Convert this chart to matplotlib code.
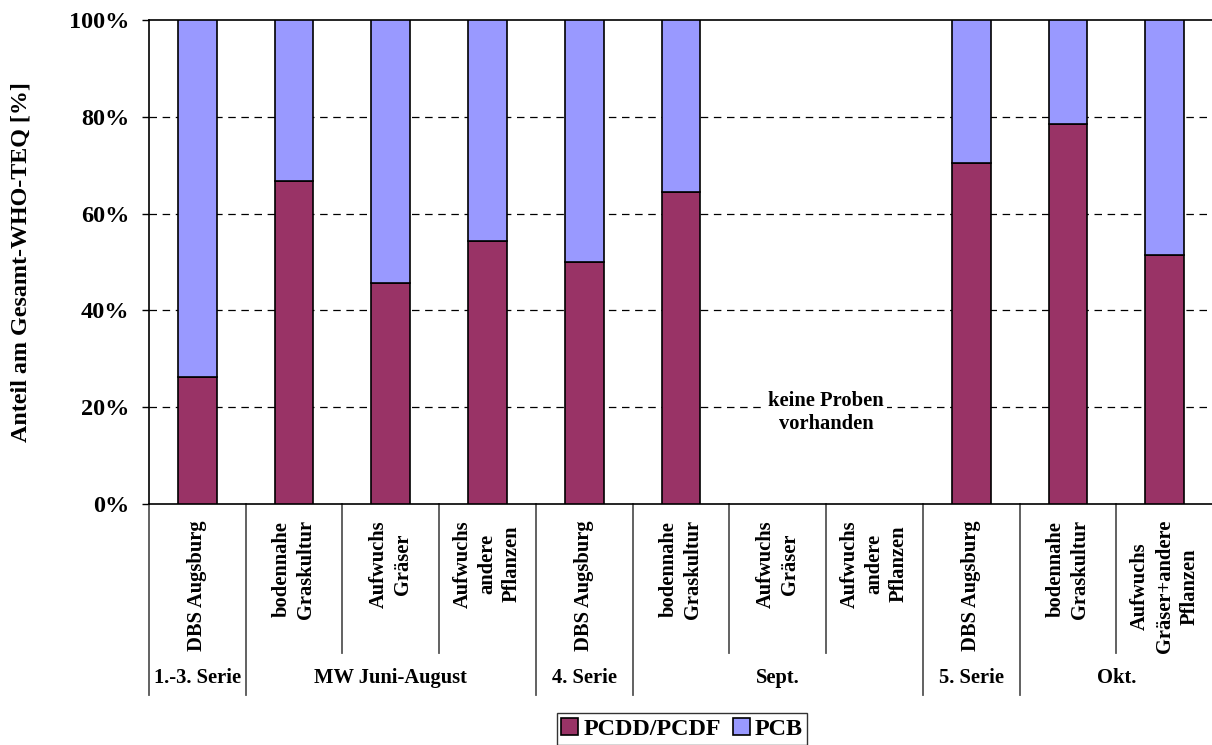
import numpy as np
import matplotlib
matplotlib.use("Agg")
import matplotlib.pyplot as plt

plt.rcParams['font.family'] = ['Liberation Serif', 'DejaVu Serif']
plt.rcParams['font.weight'] = 'bold'

# category labels (one per bar)
categories = ["DBS Augsburg", "bodennahe\nGraskultur", "Aufwuchs\nGräser", "Aufwuchs\nandere\nPflanzen",
              "DBS Augsburg", "bodennahe\nGraskultur", "Aufwuchs\nGräser", "Aufwuchs\nandere\nPflanzen",
              "DBS Augsburg", "bodennahe\nGraskultur", "Aufwuchs\nGräser+andere\nPflanzen"]
# group labels: (name, first index, last index)
groups = [("1.-3. Serie", 0, 0), ("MW Juni-August", 1, 3), ("4. Serie", 4, 4),
          ("Sept.", 5, 7), ("5. Serie", 8, 8), ("Okt.", 9, 10)]
# share of PCDD/PCDF in % (nan = keine Proben)
pcdd = np.array([26.3, 66.8, 45.6, 54.3, 50.1, 64.4, np.nan, np.nan, 70.5, 78.6, 51.5])
pcb = 100 - pcdd

c_pcdd = '#993366'
c_pcb = '#9999FF'

fig = plt.figure(figsize=(12.12, 7.45), dpi=100)
ax = fig.add_axes([149/1212, 241/745, 1064/1212, 484/745])

x = np.arange(len(categories))
ok = ~np.isnan(pcdd)
ax.bar(x[ok], pcdd[ok], width=0.40, color=c_pcdd, edgecolor='black', linewidth=1.2, label='PCDD/PCDF', zorder=3)
ax.bar(x[ok], pcb[ok], width=0.40, bottom=pcdd[ok], color=c_pcb, edgecolor='black', linewidth=1.2, label='PCB', zorder=3)

ax.set_xlim(-0.5, len(categories) - 0.5)
ax.set_ylim(0, 100)
ax.set_yticks([0, 20, 40, 60, 80, 100])
ax.set_yticklabels([f"{v}%" for v in [0, 20, 40, 60, 80, 100]], fontsize=17.5, fontweight='bold')
ax.tick_params(axis='y', direction='out', length=5, width=1, pad=9)
ax.set_xticks([])
for yv in [20, 40, 60, 80]:
    ax.axhline(yv, color='black', linestyle=(0, (6, 4.5)), linewidth=0.9, zorder=1)
for s in ax.spines.values():
    s.set_color('black')
    s.set_linewidth(1.2)

ax.set_ylabel("Anteil am Gesamt-WHO-TEQ [%]", fontsize=17.3, fontweight='bold')
ax.yaxis.set_label_coords(-0.11, 0.5)

trans = ax.get_xaxis_transform()
# category labels, rotated
for i, lab in enumerate(categories):
    ax.text(i, -0.033, lab, rotation=90, ha='center', va='top', multialignment='center',
            fontsize=14.8, fontweight='bold', linespacing=1.3, transform=trans)

# separators below the axis
group_edges = sorted(set([g[1] - 0.5 for g in groups] + [groups[-1][2] + 0.5]))
inner_edges = [k + 0.5 for (_, a, b) in groups for k in range(a, b)]
for e in inner_edges:
    ax.plot([e, e], [0, -0.308], color='#555555', linewidth=1.3, transform=trans, clip_on=False)
for e in group_edges:
    ax.plot([e, e], [0, -0.395], color='#555555', linewidth=1.3, transform=trans, clip_on=False)

for name, a, b in groups:
    ax.text((a + b) / 2, -0.36, name, ha='center', va='center', fontsize=14.8,
            fontweight='bold', transform=trans)

ax.text(6.5, 19, "keine Proben\nvorhanden", ha='center', va='center', fontsize=14.8,
        fontweight='bold', zorder=4, bbox=dict(facecolor='white', edgecolor='none', pad=2))

leg = fig.legend(loc='center', bbox_to_anchor=(682/1212, 1 - 729/745), ncol=2,
                 prop={'size': 17.4, 'weight': 'bold'}, frameon=True, fancybox=False,
                 handlelength=0.7, handleheight=0.7, handletextpad=0.2, columnspacing=0.5,
                 borderpad=0.2, borderaxespad=0)
leg.get_frame().set_edgecolor('black')
leg.get_frame().set_linewidth(1.0)

fig.savefig('out.png', dpi=100)
